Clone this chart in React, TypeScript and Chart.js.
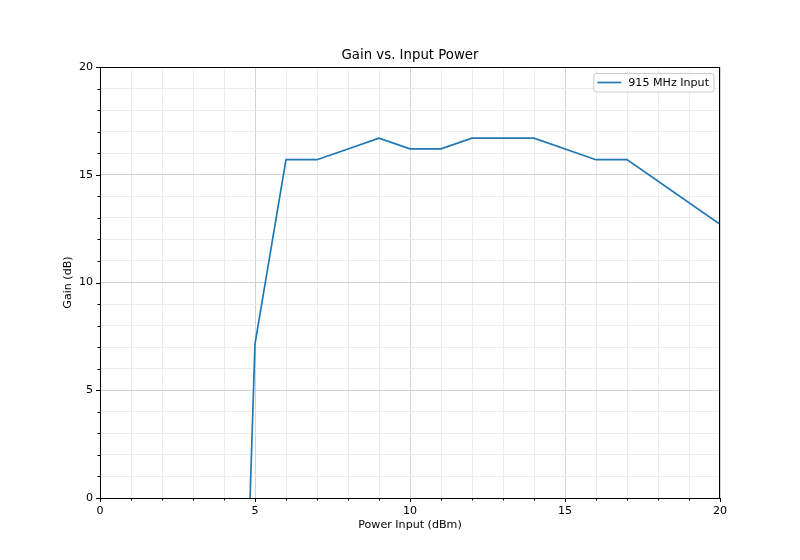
import React, { useEffect, useRef } from "react";
import { Chart, registerables } from "chart.js";

Chart.register(...registerables);

const powerInput = [4, 5, 6, 7, 9, 10, 11, 12, 14, 16, 17, 20];
const gain = [-38, 7.15, 15.7, 15.7, 16.7, 16.2, 16.2, 16.7, 16.7, 15.7, 15.7, 12.7];
const seriesLabel = "915 MHz Input";
const chartTitle = "Gain vs. Input Power";
const xTitle = "Power Input (dBm)";
const yTitle = "Gain (dB)";
const xRange = [0, 20];
const yRange = [0, 20];
const majorStep = 5;
const minorStep = 1;

const FONT = "DejaVu Sans";
const BLUE = "#1f77b4";

const decorPlugin = {
  id: "decor",
  afterDatasetsDraw(chart: any) {
    const { ctx, chartArea: a, scales } = chart;
    const xs = scales.x;
    const ys = scales.y;
    ctx.save();
    // spines
    ctx.strokeStyle = "#000";
    ctx.lineWidth = 1;
    ctx.strokeRect(a.left + 0.5, a.top + 0.5, a.right - a.left - 1, a.bottom - a.top);
    // ticks
    for (let v = xRange[0]; v <= xRange[1]; v += minorStep) {
      const major = v % majorStep === 0;
      const px = Math.round(xs.getPixelForValue(v)) + 0.5;
      ctx.beginPath();
      ctx.moveTo(px, a.bottom);
      ctx.lineTo(px, a.bottom + (major ? 4 : 2.5));
      ctx.stroke();
    }
    for (let v = yRange[0]; v <= yRange[1]; v += minorStep) {
      const major = v % majorStep === 0;
      const py = Math.round(ys.getPixelForValue(v)) + 0.5;
      ctx.beginPath();
      ctx.moveTo(a.left, py);
      ctx.lineTo(a.left - (major ? 4 : 2.5), py);
      ctx.stroke();
    }
    // title
    ctx.fillStyle = "#000";
    ctx.textAlign = "center";
    ctx.textBaseline = "middle";
    ctx.font = `13.3px "${FONT}"`;
    ctx.fillText(chartTitle, (a.left + a.right) / 2, 56);
    ctx.font = `11.1px "${FONT}"`;
    ctx.fillText(xTitle, (a.left + a.right) / 2, 525);
    ctx.save();
    ctx.translate(68, (a.top + a.bottom) / 2);
    ctx.rotate(-Math.PI / 2);
    ctx.fillText(yTitle, 0, 0);
    ctx.restore();
    // legend
    ctx.font = `11.1px "${FONT}"`;
    const tw = ctx.measureText(seriesLabel).width;
    const bw = tw + 40;
    const bx = a.right - 6 - bw;
    const by = a.top + 6;
    const bh = 19;
    ctx.fillStyle = "rgba(255,255,255,0.8)";
    ctx.strokeStyle = "#cccccc";
    ctx.lineWidth = 1;
    ctx.beginPath();
    const r = 2.5;
    ctx.moveTo(bx + r, by + 0.5);
    ctx.arcTo(bx + bw, by + 0.5, bx + bw, by + bh, r);
    ctx.arcTo(bx + bw, by + bh, bx, by + bh, r);
    ctx.arcTo(bx + 0.5, by + bh, bx + 0.5, by, r);
    ctx.arcTo(bx + 0.5, by + 0.5, bx + bw, by + 0.5, r);
    ctx.closePath();
    ctx.fill();
    ctx.stroke();
    ctx.strokeStyle = BLUE;
    ctx.lineWidth = 1.67;
    ctx.beginPath();
    ctx.moveTo(bx + 4, by + bh / 2);
    ctx.lineTo(bx + 28, by + bh / 2);
    ctx.stroke();
    ctx.fillStyle = "#000";
    ctx.textAlign = "left";
    ctx.fillText(seriesLabel, bx + 35, by + bh / 2 + 0.5);
    ctx.restore();
  },
};

export default function App() {
  const ref = useRef<HTMLCanvasElement>(null);
  useEffect(() => {
    if (!ref.current) return;
    const gridColor = (c: any) =>
      c.tick && c.tick.value % majorStep === 0 ? "#d4d4d4" : "#ececec";
    const chart = new Chart(ref.current, {
      type: "line",
      data: {
        datasets: [
          {
            label: seriesLabel,
            data: powerInput.map((x, i) => ({ x, y: gain[i] })),
            borderColor: BLUE,
            backgroundColor: BLUE,
            borderWidth: 1.67,
            pointRadius: 0,
            tension: 0,
            fill: false,
          },
        ],
      },
      options: {
        animation: false,
        responsive: false,
        maintainAspectRatio: false,
        layout: { padding: { left: 0, top: 67, right: 80, bottom: 0 } },
        plugins: { legend: { display: false }, title: { display: false }, tooltip: { enabled: false } },
        scales: {
          x: {
            type: "linear",
            min: xRange[0],
            max: xRange[1],
            afterFit: (s: any) => {
              s.height = 62;
            },
            border: { display: false },
            grid: { color: gridColor, drawTicks: false, lineWidth: 1 },
            ticks: {
              stepSize: minorStep,
              autoSkip: false,
              maxRotation: 0,
              padding: 6,
              color: "#000",
              font: { family: FONT, size: 11.1 },
              callback: (v: any) => (Number(v) % majorStep === 0 ? String(v) : ""),
            },
          },
          y: {
            type: "linear",
            min: yRange[0],
            max: yRange[1],
            afterFit: (s: any) => {
              s.width = 100;
            },
            border: { display: false },
            grid: { color: gridColor, drawTicks: false, lineWidth: 1 },
            ticks: {
              stepSize: minorStep,
              autoSkip: false,
              padding: 7,
              color: "#000",
              font: { family: FONT, size: 11.1 },
              callback: (v: any) => (Number(v) % majorStep === 0 ? String(v) : ""),
            },
          },
        },
      },
      plugins: [decorPlugin],
    });
    return () => chart.destroy();
  }, []);
  return (
    <div style={{ position: "fixed", left: 0, top: 0, width: 800, height: 560, background: "#fff" }}>
      <canvas ref={ref} width={800} height={560} />
    </div>
  );
}
